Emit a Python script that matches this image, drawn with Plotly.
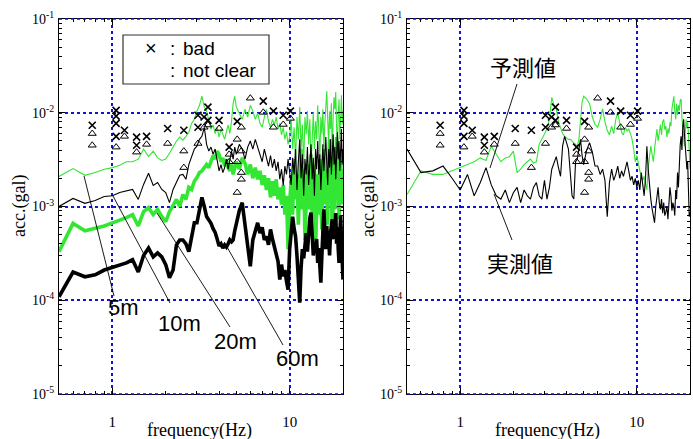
import math
import plotly.graph_objects as go

W, H = 693, 439

# frequency grid (Hz)
freq = [round(0.5 + 0.1 * i, 1) for i in range(46)] + [round(5.2 + 0.2 * i, 1) for i in range(75)]

# ---- left panel: depth spectra (gal) ----
acc_5m = [
    .00209, .00254, .00215, .0023, .0025, .0026, .00275, .0030, .0030, .0032,
    .0041, .0034, .0039, .0033, .0031, .0032, .0037, .0043, .0050, .0055,
    .0051, .0056, .0062, .0077, .0085, .0104, .0120, .0150, .0115, .0104,
    .0081, .0067, .0074, .0060, .0070, .0055, .0067, .0058, .0052, .0063,
    .0074, .0060, .0081, .0126, .0150, .0115,
    .0099, .0085, .0109, .0090, .0120, .0104, .0085, .0099, .0077, .0070,
    .0090, .0109, .0081, .0070, .0085, .0074, .0090, .0067, .0077, .0058,
    .0070, .0052, .0063, .0046, .0055,
    .0085, .0041, .0070, .0032, .0090, .0052, .0115, .0041, .0075, .0028,
    .0090, .0059, .0104, .0046, .0085, .0026, .0070, .0101, .0041, .0081,
    .0052, .0120, .0067, .0033, .0090, .0059, .0109, .0043, .0077, .0139,
    .0170, .0085, .0046, .0104, .0067, .0126, .0032, .0090, .0146, .0109,
    .0166, .0070, .0041, .0097, .0139, .0052, .0115, .0154, .0075, .0104]

acc_10m = [
    .00100, .00122, .00108, .00116, .00128, .00130, .00141, .00148, .00152, .00119,
    .00172, .00226, .00168, .0018, .00152, .00141, .0011, .00152, .0018, .00215,
    .0022, .00195, .0028, .0034, .0041, .0044, .0052, .0056, .0070, .0046,
    .0039, .0043, .0036, .0041, .0030, .0024, .0028, .0023, .0026, .0032,
    .0025, .0033, .0039, .0032, .0043, .0036,
    .0046, .0041, .0032, .0043, .0050, .0041, .0052, .0043, .0036, .0030,
    .0041, .0033, .0027, .0035, .0026, .0032, .0024, .0030, .00195, .0025,
    .00168, .0027, .0022, .0032, .0024,
    .0017, .0033, .0022, .0041, .0015, .0030, .0052, .0020, .0036, .0013,
    .0032, .0022, .0043, .0017, .0028, .0046, .00195, .0033, .0013, .0041,
    .0025, .0050, .0022, .0036, .0015, .0032, .0046, .0024, .0039, .0055,
    .0028, .0017, .0041, .0026, .0052, .0022, .0036, .0059, .0028, .0043,
    .00195, .0039, .0062, .0032, .0050, .0024, .0043, .0067, .0028, .0041]

acc_20m = [
    .00033, .00066, .00055, .00058, .00062, .00067, .00071, .00076, .00082, .00062,
    .00088, .00097, .00082, .00093, .00078, .00069, .00088, .00105, .00119, .0010,
    .00134, .00119, .0016, .00152, .00186, .00204, .0023, .0024, .0026, .0028,
    .0026, .0030, .0035, .0032, .0039, .0036, .0030, .0033, .0027, .0032,
    .0026, .0024, .0028, .0022, .0026, .0030,
    .0025, .0033, .0029, .0022, .0028, .0020, .0026, .00195, .0024, .0017,
    .00215, .0015, .0020, .00125, .00186, .0013, .00195, .00119, .0016, .00105,
    .0017, .00082, .0013, .00035, .00105,
    .00195, .00082, .0032, .00119, .0022, .00064, .0017, .0041, .00093, .0025,
    .00044, .0013, .0028, .00093, .0017, .0036, .00073, .0015, .0028, .00035,
    .00119, .0022, .00082, .0032, .0013, .00057, .00195, .0041, .00105, .0025,
    .0015, .00064, .0028, .0052, .00119, .0020, .00044, .0017, .0036, .00093,
    .0022, .0055, .0013, .0028, .00073, .00195, .0041, .00105, .0025, .0015]

acc_60m = [
    .000109, .00020, .000178, .000187, .00021, .000223, .000235, .00025, .00027, .00020,
    .00030, .00036, .00029, .00032, .00029, .00024, .000174, .00021, .00039, .00044,
    .00044, .00040, .00033, .00045, .00067, .00067, .00095, .00125, .0010, .00078,
    .00072, .00066, .00058, .00053, .00045, .00038, .00040, .00036, .00039, .00037,
    .00040, .00044, .00042, .00044, .00055, .00067,
    .0009, .0011, .00061, .00035, .00023, .00044, .00055, .00067, .00052, .0006,
    .00044, .00048, .00039, .00057, .00045, .00036, .00032, .00026, .000166, .00024,
    .00018, .00021, .00016, .00013, .00035,
    .00055, .00078, .00058, .00048, .00030, .00018, .000094, .00022, .00035, .00028,
    .00041, .00052, .00033, .00060, .00075, .00086, .00050, .00030, .00042, .00032,
    .00045, .00025, .00036, .00020, .000154, .00030, .00060, .00093, .00055, .00035,
    .00062, .00040, .00048, .00030, .00052, .00065, .00073, .00045, .00070, .00050,
    .00085, .00040, .00060, .00035, .00025, .00050, .00080, .00045, .00028, .000166]

# ---- right panel: predicted (予測値) and measured (実測値) ----
acc_pred = [
    .00134, .0024, .0022, .0022, .0024, .0026, .0028, .0030, .0033, .0031,
    .0044, .0036, .0030, .0033, .0034, .0039, .0023, .0025, .0028, .0030,
    .0032, .0029, .0030, .0046, .0052, .0060, .0067, .0085, .0146, .0120,
    .0110, .0080, .0067, .0060, .0056, .0054, .0052, .0052, .0050, .0048,
    .0046, .0044, .0052, .0090, .0130, .0150,
    .0140, .0125, .0090, .0075, .0070, .0085, .0110, .0080, .0065, .0058,
    .0072, .0060, .0085, .0100, .0075, .0062, .0058, .0070, .0064, .0067,
    .0060, .0052, .0041, .0030, .0035,
    .0028, .0024, .0021, .0019, .0021, .0017, .0015, .0026, .0035, .0044,
    .0036, .0030, .0041, .0055, .0067, .0050, .0062, .0075, .0058, .0080,
    .0085, .0066, .0072, .0055, .0068, .0060, .0079, .0072, .0110, .0130,
    .0150, .0105, .0085, .0125, .0095, .0120, .0105, .0135, .0140, .0090,
    .0070, .0052, .0044, .0060, .0085, .0068, .0079, .0060, .0038, .0025]

acc_meas = [
    .0041, .0023, .0024, .0027, .0020, .0015, .0022, .0013, .0018, .0026,
    .0017, .0013, .0012, .0015, .0011, .0014, .0016, .0011, .0015, .0013,
    .0012, .0016, .0018, .0013, .0012, .0019, .0012, .0016, .0025, .0029,
    .0034, .0026, .0021, .0044, .0056, .0048, .0041, .0023, .0013, .0012,
    .0030, .0032, .0040, .0052, .0035, .0028,
    .0040, .0048, .0038, .0027, .0027, .0022, .0025, .0019, .00078, .0018,
    .0025, .0019, .0022, .0027, .0020, .0024, .0021, .0026, .0030, .0024,
    .0019, .0021, .0017, .0020, .0016,
    .0019, .0015, .0023, .0017, .0013, .0020, .0044, .0025, .0015, .0012,
    .00095, .00075, .00067, .0010, .0014, .0016, .0011, .00093, .0012, .00085,
    .0011, .00080, .00087, .0010, .00073, .0012, .0016, .0013, .00090, .0011,
    .0010, .00080, .0015, .0012, .0023, .0016, .0030, .0045, .0056, .0040,
    .0070, .0085, .0060, .0045, .0035, .0025, .0030, .0018, .00078, .00087]

# ---- judgement markers (same in both panels) ----
bad_f = [0.77, 1.05, 1.05, 1.05, 1.05, 1.17, 1.37, 1.37, 1.56, 2.05, 2.53,
         3.04, 3.04, 3.29, 3.46, 3.46, 4.0, 4.56, 5.06, 7.1, 8.1, 9.2, 10.1]
bad_v = [.00735, .0106, .0092, .0077, .0056, .0065, .0055, .0045, .0056, .0068, .0065,
         .0094, .0070, .0090, .0115, .0083, .0083, .0043, .0081, .0133, .0104, .0094, .0104]
nc_f = [0.77, 0.77, 1.05, 1.17, 1.37, 1.56, 2.05, 2.53, 2.53, 3.04, 3.29, 3.46, 4.0,
        4.56, 4.56, 5.06, 5.06, 5.06, 5.34, 5.34, 5.34, 5.34, 6.0, 7.1, 8.1, 9.2, 10.1]
nc_v = [.0060, .0045, .0043, .0056, .0038, .0046, .0047, .0039, .0026, .0047, .0070, .0074, .0068,
        .0036, .0030, .0052, .0030, .00141, .0070, .0039, .0023, .00195, .0143, .0101, .0070, .0075, .0087]

depth_labels = ["5m", "10m", "20m", "60m"]
y_tick_vals = [1e-5, 1e-4, 1e-3, 1e-2, 1e-1]
y_tick_text = ["10<sup>-5</sup>", "10<sup>-4</sup>", "10<sup>-3</sup>", "10<sup>-2</sup>", "10<sup>-1</sup>"]
x_tick_vals = [1, 10]
x_tick_text = ["1", "10"]

GREEN = "#33e633"
GRID = "#1010e0"


def px(x):
    return x / W


def py(y):
    return 1 - y / H


fig = go.Figure()


def add_line(y, xa, ya, color, width):
    fig.add_trace(go.Scatter(x=freq, y=y, mode="lines", xaxis=xa, yaxis=ya,
                             line=dict(color=color, width=width), showlegend=False,
                             hoverinfo="skip"))


def add_markers(xa, ya):
    fig.add_trace(go.Scatter(x=bad_f, y=bad_v, mode="markers", xaxis=xa, yaxis=ya,
                             marker=dict(symbol="x-thin-open", size=7, color="black",
                                         line=dict(color="black", width=1.6)),
                             showlegend=False, hoverinfo="skip"))
    fig.add_trace(go.Scatter(x=nc_f, y=nc_v, mode="markers", xaxis=xa, yaxis=ya,
                             marker=dict(symbol="triangle-up-open", size=7, color="black",
                                         line=dict(color="black", width=1)),
                             showlegend=False, hoverinfo="skip"))


add_line(acc_5m, "x", "y", GREEN, 1.1)
add_line(acc_20m, "x", "y", GREEN, 3.6)
add_line(acc_10m, "x", "y", "black", 1.1)
add_line(acc_60m, "x", "y", "black", 3.6)
add_markers("x", "y")

add_line(acc_pred, "x2", "y2", GREEN, 1.1)
add_line(acc_meas, "x2", "y2", "black", 1.1)
add_markers("x2", "y2")

x_minor = [0.6, 0.7, 0.8, 0.9] + [float(k) for k in range(2, 10)]
y_minor = [m * 10.0 ** e for e in range(-5, -1) for m in range(2, 10)]

ydom = [py(394), py(19)]


def xaxis(dom, anchor):
    return dict(type="log", range=[math.log10(0.5), math.log10(20)], domain=dom, anchor=anchor,
                automargin=False,
                tickmode="array", tickvals=x_tick_vals, ticktext=x_tick_text,
                ticks="inside", ticklen=6, tickwidth=1, tickcolor="black",
                showline=True, linecolor="black", linewidth=1, mirror="ticks",
                showgrid=True, gridcolor=GRID, griddash="dot", gridwidth=1.6,
                zeroline=False, ticklabelstandoff=14,
                tickfont=dict(family="Liberation Serif", size=15, color="black"),
                minor=dict(tickmode="array", tickvals=x_minor, ticks="inside", ticklen=3,
                           tickcolor="black", showgrid=False))


def yaxis(anchor):
    return dict(type="log", range=[-5, -1], domain=ydom, anchor=anchor,
                automargin=False,
                tickmode="array", tickvals=y_tick_vals, ticktext=y_tick_text,
                ticks="inside", ticklen=6, tickwidth=1, tickcolor="black",
                showline=True, linecolor="black", linewidth=1, mirror="ticks",
                showgrid=True, gridcolor=GRID, griddash="dot", gridwidth=1.6,
                zeroline=False, ticklabelstandoff=1,
                tickfont=dict(family="Liberation Serif", size=14, color="black"),
                minor=dict(tickmode="array", tickvals=y_minor, ticks="inside", ticklen=3,
                           tickcolor="black", showgrid=False))


shapes = []
# blue dotted lines on top/bottom frame
for (l, r) in [(59, 343), (407, 690)]:
    for yy in (19, 394):
        shapes.append(dict(type="line", xref="paper", yref="paper", x0=px(l), x1=px(r),
                           y0=py(yy), y1=py(yy), layer="above",
                           line=dict(color=GRID, width=1.6, dash="dot")))
# legend box
shapes.append(dict(type="rect", xref="paper", yref="paper", x0=px(123), x1=px(269),
                   y0=py(84), y1=py(35), line=dict(color="#333333", width=1.2),
                   fillcolor="white", layer="above"))
# leader lines
leaders = [((84, 176), (114, 296)), ((113, 196), (170, 303)), ((157, 213), (230, 327)),
           ((227, 247), (283, 345)), ((517, 84), (490, 168)), ((494, 194), (512, 240))]
for (a, b) in leaders:
    shapes.append(dict(type="line", xref="paper", yref="paper", x0=px(a[0]), y0=py(a[1]),
                       x1=px(b[0]), y1=py(b[1]), layer="above",
                       line=dict(color="black", width=0.9)))

annotations = []


def ann(text, x, y, size, family, xanchor="center", angle=0):
    annotations.append(dict(text=text, x=px(x), y=py(y), xref="paper", yref="paper",
                            showarrow=False, xanchor=xanchor, yanchor="middle",
                            textangle=angle,
                            font=dict(family=family, size=size, color="black")))


SANS = "Liberation Sans"
SERIF = "Liberation Serif"
for lab, (x, y) in zip(depth_labels, [(123, 307), (180, 323), (235, 341), (297, 358)]):
    ann(lab, x, y, 22, SANS)

ann("×", 151, 48, 20, SANS)
ann(":", 172, 48, 19, SANS)
ann("bad", 181, 48, 19, SANS, xanchor="left")
ann(":", 172, 70, 19, SANS)
ann("not clear", 181, 70, 19, SANS, xanchor="left")

ann("予測値", 523, 66, 22, "Noto Sans CJK JP")
ann("実測値", 520, 262, 22, "Noto Sans CJK JP")

ann("frequency(Hz)", 200, 430, 18, SERIF)
ann("frequency(Hz)", 547, 430, 18, SERIF)
ann("acc.(gal)", 19, 206, 18, SERIF, angle=-90)
ann("acc.(gal)", 368, 206, 18, SERIF, angle=-90)

fig.update_layout(
    width=W, height=H, margin=dict(l=0, r=0, t=0, b=0, autoexpand=False),
    paper_bgcolor="white", plot_bgcolor="white", showlegend=False,
    xaxis=xaxis([px(59), px(343)], "y"),
    yaxis=yaxis("x"),
    xaxis2=xaxis([px(407), px(690)], "y2"),
    yaxis2=yaxis("x2"),
    shapes=shapes, annotations=annotations,
)

fig.write_html("out.html")
